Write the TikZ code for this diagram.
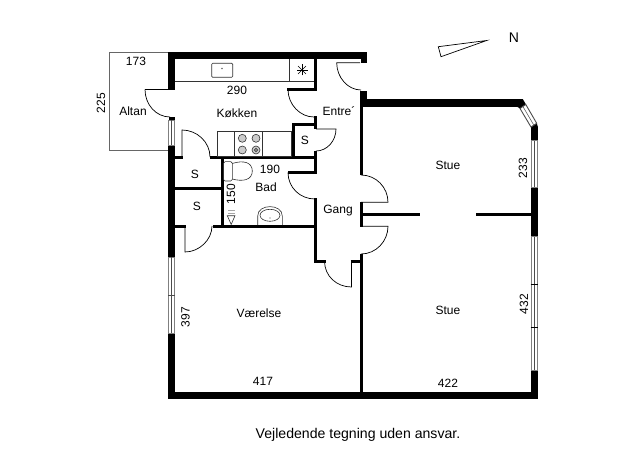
\documentclass[tikz,border=0pt]{standalone}
\usepackage{fontspec}
\setmainfont{Liberation Sans}
\usetikzlibrary{positioning}

\begin{document}
\begin{tikzpicture}[
        x=1pt,
        y=-1pt,
        wall/.style={fill=black},
        partition/.style={draw=black, line width=3pt},
        swing/.style={draw=black, line width=0.7pt},
        fitting/.style={draw=black!80, line width=0.6pt},
        window/.style={draw=black!50, line width=0.9pt, fill=white},
        room/.style={font=\fontsize{12}{14}\selectfont, inner sep=0pt},
        dim/.style={room, rotate=90},
    ]
        \useasboundingbox (0,0) rectangle (625,460);

        % Draw the balcony
        \draw[draw=black!60, line width=0.7pt] (168,52) -- (109.5,52) -- (109.5,150.7) -- (168,150.7);

        % Draw the outer walls
        \fill[wall] (168,52) rectangle (366.7,59.3);
        \fill[wall] (360.5,59) rectangle (366.7,63);
        \fill[wall] (168,52) rectangle (175.3,90);
        \fill[wall] (168,145) rectangle (175.3,257);
        \fill[wall] (168,333) rectangle (175.3,399);
        \fill[wall] (168,392.3) rectangle (538,399);
        \fill[wall] (531,370) rectangle (538,399);
        \fill[wall] (531,187.3) rectangle (538,236.7);
        \fill[wall] (531,127) rectangle (538,140.7);
        \fill[wall] (531,127) -- (536.7,123.3) -- (538,127) -- cycle;
        \fill[wall] (360,99.5) rectangle (523,106.7);
        \fill[wall] (360,91.5) rectangle (366.7,106.7);
        \fill[wall] (523,99.5) -- (526,104.5) -- (520,108.5) -- (517,106.7) -- cycle;
        \fill[wall] (168.5,117.5) rectangle (175,120.5);

        % Draw the windows
        \foreach \top / \bottom in {120.5/145, 257/333}{
            \draw[window] (168.6,\top) rectangle (174.8,\bottom);
            \draw[black!70, line width=0.5pt] (171.7,\top) -- (171.7,\bottom);
        }
        \foreach \top / \bottom in {140.7/187.3, 236.7/370}{
            \draw[window] (531.6,\top) rectangle (537.6,\bottom);
            \draw[black!70, line width=0.5pt] (534.6,\top) -- (534.6,\bottom);
        }
        \draw[window, draw=black!70] (525.8,104.5) -- (536.7,123.3) -- (531,127) -- (520,108.5) -- cycle;
        \draw[black!70, line width=0.5pt] (522.9,106.5) -- (533.8,125.1);
        \foreach \y in {284.3, 327.3}
            \draw[black, line width=0.8pt] (530.5,\y) -- (538,\y);
        \draw[black!70, line width=0.6pt] (168,295.7) -- (175,295.7);

        % Draw the inner walls
        \draw[partition, line width=1.2pt] (145,89.5) -- (171,89.5);
        \draw[partition, line cap=rect] (315.3,59) -- (315.3,89.5) -- (288.5,89.5);
        \draw[partition, line cap=rect] (315.3,118) -- (315.3,124.8) -- (293.3,124.8) -- (293.3,157.3);
        \draw[partition] (315.3,124.8) -- (315.3,129);
        \draw[partition] (175,157.3) -- (182.5,157.3);
        \draw[partition] (210,157.3) -- (316.8,157.3);
        \draw[partition] (315.3,151) -- (315.3,172.5) -- (288,172.5);
        \draw[partition, line cap=rect] (315.3,199.5) -- (315.3,261.3) -- (324.5,261.3);
        \draw[partition] (222.3,157.3) -- (222.3,226);
        \draw[partition] (175,188.3) -- (222.3,188.3);
        \draw[partition] (175,226) -- (186,226);
        \draw[partition] (213,226) -- (316.8,226);
        \draw[partition] (361.5,106) -- (361.5,175);
        \draw[partition] (361.5,202.5) -- (361.5,226.5);
        \draw[partition] (361.5,253.5) -- (361.5,393);
        \draw[partition] (350.5,261.3) -- (363,261.3);
        \draw[partition] (361.5,214.3) -- (420,214.3);
        \draw[partition] (476,214.3) -- (532,214.3);

        % Draw the doors
        \draw[swing] (145,89.5) .. controls +(0,15) and +(-14,0) .. (170,117);
        \draw[swing] (182,157.3) -- (182,130) .. controls +(15,0) and +(0,-15) .. (210,157);
        \draw[swing] (212,226) .. controls +(0,14) and +(14,0) .. (185,252) -- (185,226);
        \draw[swing] (288,89.5) .. controls +(0,15) and +(-14,0) .. (314,117);
        \draw[swing] (316,129) -- (336,129) .. controls +(0,12) and +(11,0) .. (316,151);
        \draw[swing] (288,172.5) .. controls +(0,15) and +(-15,0) .. (315,199);
        \draw[swing] (360,62.7) -- (336.7,62.7) .. controls +(0,15) and +(-13,0) .. (361,90);
        \draw[swing] (361,175) .. controls +(15,0) and +(0,-15) .. (388,202.3) -- (361,202.3);
        \draw[swing] (361,226.3) -- (388,226.3) .. controls +(0,15) and +(15,0) .. (361,254);
        \draw[swing] (324.5,261) .. controls +(0,15) and +(-15,0) .. (351.5,287) -- (351.5,261);

        % Draw the kitchen fittings
        \draw[fitting] (175,81.6) -- (314,81.6);
        \draw[fitting] (289,59) -- (289,81.6);
        \draw[fitting, rounded corners=1pt] (211.7,63.3) rectangle (232.7,77.3);
        \fill[black!60] (222,68.5) circle (0.9);
        \foreach \angle in {0,45,...,135}
            \draw[black, line width=0.6pt] (302,70) +(\angle:5.5) -- +(\angle+180:5.5);
        \draw[fitting] (217.3,131.7) rectangle (291.5,156);
        \draw[fitting] (234.3,131.7) -- (234.3,156);
        \draw[fitting] (262.7,131.7) -- (262.7,156);
        \foreach \x / \y in {242.3/138.3, 256/138.3, 242.3/150, 256/150}
            \draw[fitting, fill=black!20] (\x,\y) circle (4);
        \draw[fitting] (256,150) circle (1.6);

        % Draw the bathroom fittings
        \draw[fitting, rounded corners=1.5pt] (223.5,161.7) rectangle (232.3,181);
        \draw[fitting] (232.3,163.5) .. controls (243,160) and (252.3,162) .. (252.3,171) .. controls (252.3,180) and (243,182) .. (232.3,179);
        \draw[fitting] (257.7,225) -- (257.7,216) .. controls (257.7,203.5) and (282.3,203.5) .. (282.3,216) -- (282.3,225);
        \draw[fitting] (270,215.3) ellipse (10 and 6);
        \fill[black!70] (270,218) circle (0.7);
        \draw[fitting] (227.3,215.7) -- (235,215.7) -- (231.2,224.5) -- cycle;
        \draw[black!35, line width=0.5pt] (228,213) -- (234.5,213) (228,210.5) -- (234.5,210.5);

        % Draw the labels
        \foreach \name / \x / \y / \label in {
                altan/133/111/Altan,
                kitchen/237/113/Køkken,
                bath/266/187.5/Bad,
                store1/195/174/S,
                store2/197/206/S,
                store3/305/140/S,
                entry/339/111/Entre´,
                hall/338/211/Gang,
                living1/448/165/Stue,
                living2/448/310/Stue,
                bedroom/259/313/Værelse,
                w173/136/61/173,
                w290/237/90/290,
                w190/270/169/190,
                w417/263/381/417,
                w422/448/383/422}
            \node[room] (L-\name) at (\x,\y) {\label};
        \foreach \name / \x / \y in {225/101/103, 150/231/194, 397/185.5/317, 233/523/168, 432/524/304}
            \node[dim] (D-\name) at (\x,\y) {\name};

        % Draw the north arrow and the note
        \draw[draw=black, line width=0.7pt] (438.3,46.7) -- (486.7,40.5) -- (441,56.7) -- cycle;
        \node[font=\fontsize{14}{16}\selectfont, inner sep=0pt] (north) at (514,38) {N};
        \node[font=\fontsize{14.1}{16}\selectfont, inner sep=0pt] (note) at (358,435) {Vejledende tegning uden ansvar.};
    \end{tikzpicture}
\end{document}
